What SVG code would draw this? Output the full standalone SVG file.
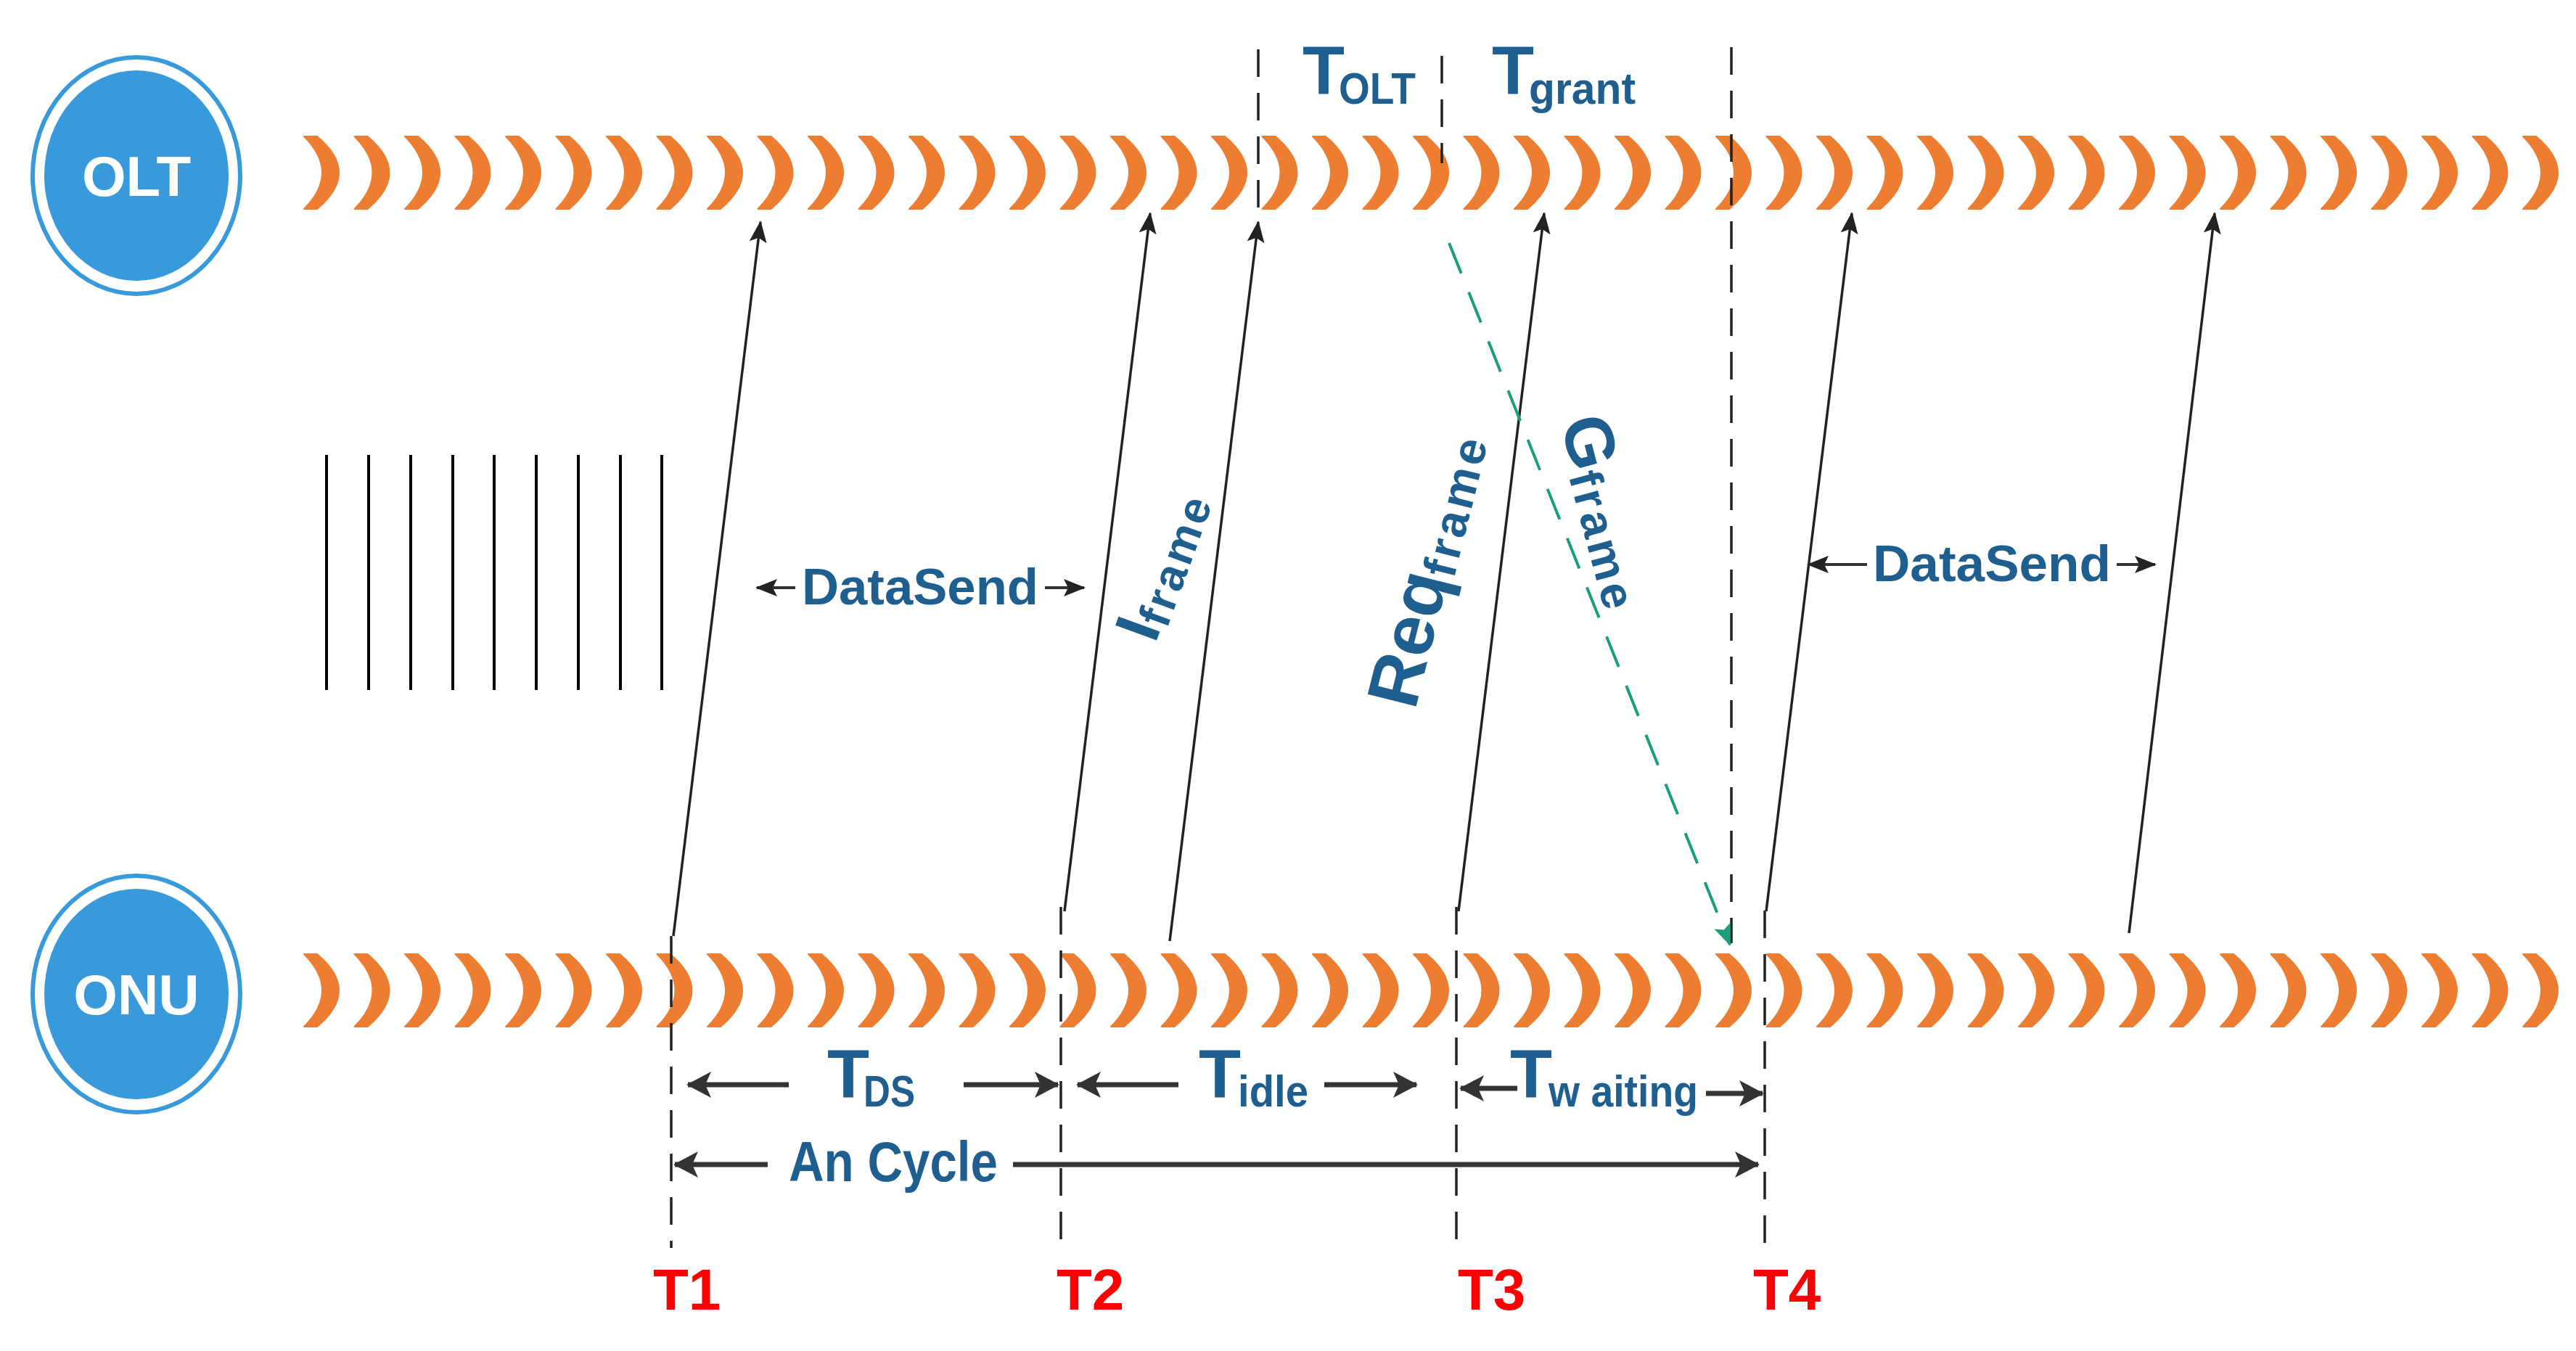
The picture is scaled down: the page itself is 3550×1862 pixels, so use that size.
<svg xmlns="http://www.w3.org/2000/svg" xmlns:xlink="http://www.w3.org/1999/xlink" width="3550" height="1862" viewBox="0 0 3550 1862">
<style>
.lbl{font-family:"Liberation Sans Narrow","Liberation Sans",Arial,sans-serif;font-weight:bold;fill:#1f5f8f}
.red{font-family:"Liberation Sans Narrow","Liberation Sans",Arial,sans-serif;font-weight:bold;fill:#ff0000;font-size:80px}
.dash{stroke:#222;stroke-width:3.5;stroke-dasharray:38 22;fill:none}
.sig{stroke:#222;stroke-width:3.5;fill:none}
.dim{stroke:#333;stroke-width:7;fill:none}
.bar{stroke:#000;stroke-width:4}
</style>
<defs>
<path id="arc" d="M2,-50 L20,-50 Q80,0 20,50 L2,50 Q52,0 2,-50 Z" fill="#ed7d31" stroke="#ed7d31" stroke-width="2" stroke-linejoin="round"/>
<marker id="ah" markerUnits="userSpaceOnUse" markerWidth="30" markerHeight="40" viewBox="0 0 30 40" refX="28" refY="15" orient="auto">
<path d="M0,3 L30,15 L0,27 L6,15 Z" fill="#222"/>
</marker>
<marker id="dh" markerUnits="userSpaceOnUse" markerWidth="34" markerHeight="40" viewBox="0 0 34 40" refX="32" refY="20" orient="auto-start-reverse">
<path d="M0,2 L34,20 L0,38 L8,20 Z" fill="#333"/>
</marker>
<marker id="gh" markerUnits="userSpaceOnUse" markerWidth="30" markerHeight="40" viewBox="0 0 30 40" refX="28" refY="15" orient="auto">
<path d="M0,3 L30,15 L0,27 L6,15 Z" fill="#1a9e7e"/>
</marker>
</defs>

<g id="OLT">
<ellipse cx="188" cy="242" rx="143" ry="163" fill="#fff" stroke="#3899db" stroke-width="6"/>
<ellipse cx="188" cy="242" rx="127" ry="145" fill="#3899db"/>
<text x="188" y="270" text-anchor="middle" style="font-family:'Liberation Sans Narrow','Liberation Sans',Arial,sans-serif;font-weight:bold;font-size:78px;fill:#fff">OLT</text>
</g>
<g id="ONU">
<ellipse cx="188" cy="1370" rx="143" ry="163" fill="#fff" stroke="#3899db" stroke-width="6"/>
<ellipse cx="188" cy="1370" rx="127" ry="145" fill="#3899db"/>
<text x="188" y="1398" text-anchor="middle" style="font-family:'Liberation Sans Narrow','Liberation Sans',Arial,sans-serif;font-weight:bold;font-size:78px;fill:#fff">ONU</text>
</g>

<g id="OLT-line">
<use xlink:href="#arc" href="#arc" x="417" y="238"/><use href="#arc" x="486.5" y="238"/><use href="#arc" x="556" y="238"/><use href="#arc" x="625.5" y="238"/><use href="#arc" x="695" y="238"/><use href="#arc" x="764.5" y="238"/><use href="#arc" x="834" y="238"/><use href="#arc" x="903.5" y="238"/><use href="#arc" x="973" y="238"/><use href="#arc" x="1042.5" y="238"/><use href="#arc" x="1112" y="238"/><use href="#arc" x="1181.5" y="238"/><use href="#arc" x="1251" y="238"/><use href="#arc" x="1320.5" y="238"/><use href="#arc" x="1390" y="238"/><use href="#arc" x="1459.5" y="238"/><use href="#arc" x="1529" y="238"/><use href="#arc" x="1598.5" y="238"/><use href="#arc" x="1668" y="238"/><use href="#arc" x="1737.5" y="238"/><use href="#arc" x="1807" y="238"/><use href="#arc" x="1876.5" y="238"/><use href="#arc" x="1946" y="238"/><use href="#arc" x="2015.5" y="238"/><use href="#arc" x="2085" y="238"/><use href="#arc" x="2154.5" y="238"/><use href="#arc" x="2224" y="238"/><use href="#arc" x="2293.5" y="238"/><use href="#arc" x="2363" y="238"/><use href="#arc" x="2432.5" y="238"/><use href="#arc" x="2502" y="238"/><use href="#arc" x="2571.5" y="238"/><use href="#arc" x="2641" y="238"/><use href="#arc" x="2710.5" y="238"/><use href="#arc" x="2780" y="238"/><use href="#arc" x="2849.5" y="238"/><use href="#arc" x="2919" y="238"/><use href="#arc" x="2988.5" y="238"/><use href="#arc" x="3058" y="238"/><use href="#arc" x="3127.5" y="238"/><use href="#arc" x="3197" y="238"/><use href="#arc" x="3266.5" y="238"/><use href="#arc" x="3336" y="238"/><use href="#arc" x="3405.5" y="238"/><use href="#arc" x="3475" y="238"/>
</g>
<g id="ONU-line">
<use href="#arc" x="417" y="1365"/><use href="#arc" x="486.5" y="1365"/><use href="#arc" x="556" y="1365"/><use href="#arc" x="625.5" y="1365"/><use href="#arc" x="695" y="1365"/><use href="#arc" x="764.5" y="1365"/><use href="#arc" x="834" y="1365"/><use href="#arc" x="903.5" y="1365"/><use href="#arc" x="973" y="1365"/><use href="#arc" x="1042.5" y="1365"/><use href="#arc" x="1112" y="1365"/><use href="#arc" x="1181.5" y="1365"/><use href="#arc" x="1251" y="1365"/><use href="#arc" x="1320.5" y="1365"/><use href="#arc" x="1390" y="1365"/><use href="#arc" x="1459.5" y="1365"/><use href="#arc" x="1529" y="1365"/><use href="#arc" x="1598.5" y="1365"/><use href="#arc" x="1668" y="1365"/><use href="#arc" x="1737.5" y="1365"/><use href="#arc" x="1807" y="1365"/><use href="#arc" x="1876.5" y="1365"/><use href="#arc" x="1946" y="1365"/><use href="#arc" x="2015.5" y="1365"/><use href="#arc" x="2085" y="1365"/><use href="#arc" x="2154.5" y="1365"/><use href="#arc" x="2224" y="1365"/><use href="#arc" x="2293.5" y="1365"/><use href="#arc" x="2363" y="1365"/><use href="#arc" x="2432.5" y="1365"/><use href="#arc" x="2502" y="1365"/><use href="#arc" x="2571.5" y="1365"/><use href="#arc" x="2641" y="1365"/><use href="#arc" x="2710.5" y="1365"/><use href="#arc" x="2780" y="1365"/><use href="#arc" x="2849.5" y="1365"/><use href="#arc" x="2919" y="1365"/><use href="#arc" x="2988.5" y="1365"/><use href="#arc" x="3058" y="1365"/><use href="#arc" x="3127.5" y="1365"/><use href="#arc" x="3197" y="1365"/><use href="#arc" x="3266.5" y="1365"/><use href="#arc" x="3336" y="1365"/><use href="#arc" x="3405.5" y="1365"/><use href="#arc" x="3475" y="1365"/>
</g>

<g id="bars">
<line class="bar" x1="450" y1="627" x2="450" y2="951"/><line class="bar" x1="508" y1="627" x2="508" y2="951"/><line class="bar" x1="566" y1="627" x2="566" y2="951"/><line class="bar" x1="624" y1="627" x2="624" y2="951"/><line class="bar" x1="681" y1="627" x2="681" y2="951"/><line class="bar" x1="739" y1="627" x2="739" y2="951"/><line class="bar" x1="797" y1="627" x2="797" y2="951"/><line class="bar" x1="855" y1="627" x2="855" y2="951"/><line class="bar" x1="912" y1="627" x2="912" y2="951"/>
</g>

<g id="guides">
<line class="dash" x1="925" y1="1290" x2="925" y2="1720"/>
<line class="dash" x1="1462" y1="1250" x2="1462" y2="1720"/>
<line class="dash" x1="2007" y1="1250" x2="2007" y2="1720"/>
<line class="dash" x1="2432" y1="1255" x2="2432" y2="1720"/>
<line class="dash" x1="1734" y1="68" x2="1734" y2="290"/>
<line class="dash" x1="1987" y1="77" x2="1987" y2="225"/>
<line class="dash" x1="2386" y1="65" x2="2386" y2="1300"/>
</g>

<g id="connectors">
<line class="sig" x1="928" y1="1290" x2="1048" y2="306" marker-end="url(#ah)"/>
<line class="sig" x1="1467" y1="1256" x2="1585" y2="294" marker-end="url(#ah)"/>
<line class="sig" x1="1612" y1="1297" x2="1734" y2="306" marker-end="url(#ah)"/>
<line class="sig" x1="2010" y1="1256" x2="2128" y2="294" marker-end="url(#ah)"/>
<line class="sig" x1="2434" y1="1256" x2="2552" y2="294" marker-end="url(#ah)"/>
<line class="sig" x1="2934" y1="1286" x2="3052" y2="294" marker-end="url(#ah)"/>
<line x1="1997" y1="335" x2="2384" y2="1302" stroke="#1a9e7e" stroke-width="4" stroke-dasharray="45 28" marker-end="url(#gh)"/>
<line class="dim" x1="1087" y1="1495" x2="948" y2="1495" marker-end="url(#dh)"/>
<line class="dim" x1="1328" y1="1495" x2="1458" y2="1495" marker-end="url(#dh)"/>
<line class="dim" x1="1624" y1="1495" x2="1485" y2="1495" marker-end="url(#dh)"/>
<line class="dim" x1="1825" y1="1495" x2="1952" y2="1495" marker-end="url(#dh)"/>
<line class="dim" x1="2091" y1="1500" x2="2013" y2="1500" marker-end="url(#dh)"/>
<line class="dim" x1="2351" y1="1507" x2="2429" y2="1507" marker-end="url(#dh)"/>
<line class="dim" x1="1058" y1="1605" x2="930" y2="1605" marker-end="url(#dh)"/>
<line class="dim" x1="1396" y1="1605" x2="2423" y2="1605" marker-end="url(#dh)"/>
<line x1="1096" y1="810" x2="1043" y2="810" stroke="#333" stroke-width="4" marker-end="url(#ah)"/>
<line x1="1440" y1="810" x2="1494" y2="810" stroke="#333" stroke-width="4" marker-end="url(#ah)"/>
<line x1="2573" y1="778" x2="2492" y2="778" stroke="#333" stroke-width="4" marker-end="url(#ah)"/>
<line x1="2917" y1="778" x2="2970" y2="778" stroke="#333" stroke-width="4" marker-end="url(#ah)"/>
</g>

<g id="labels">
<text class="lbl" x="1105" y="833" font-size="70" textLength="326" lengthAdjust="spacingAndGlyphs">DataSend</text>
<text class="lbl" x="2581" y="801" font-size="70" textLength="328" lengthAdjust="spacingAndGlyphs">DataSend</text>
<text class="lbl" x="1795" y="130" font-size="95">T</text>
<text class="lbl" x="1845" y="143" font-size="62" textLength="106" lengthAdjust="spacingAndGlyphs">OLT</text>
<text class="lbl" x="2056" y="130" font-size="95">T</text>
<text class="lbl" x="2107" y="143" font-size="62" textLength="147" lengthAdjust="spacingAndGlyphs">grant</text>
<text class="lbl" x="1140" y="1513" font-size="95">T</text>
<text class="lbl" x="1190" y="1525" font-size="62" textLength="71" lengthAdjust="spacingAndGlyphs">DS</text>
<text class="lbl" x="1652" y="1513" font-size="95">T</text>
<text class="lbl" x="1706" y="1525" font-size="62" textLength="97" lengthAdjust="spacingAndGlyphs">idle</text>
<text class="lbl" x="2081" y="1513" font-size="95">T</text>
<text class="lbl" x="2134" y="1525" font-size="62" textLength="206" lengthAdjust="spacingAndGlyphs">w aiting</text>
<text class="lbl" x="1087" y="1628" font-size="77" textLength="288" lengthAdjust="spacingAndGlyphs">An Cycle</text>
<text class="lbl" transform="translate(1592,888) rotate(-70)" font-size="88">I<tspan font-size="62" dy="8" letter-spacing="4">frame</tspan></text>
<text class="lbl" transform="translate(1950,980) rotate(-76)" font-size="100">Req<tspan font-size="64" dy="8" letter-spacing="5">frame</tspan></text>
<text class="lbl" transform="translate(2150,582) rotate(75)" font-size="95">G<tspan font-size="64" dy="8" letter-spacing="5">frame</tspan></text>
<text class="red" x="900" y="1805">T1</text>
<text class="red" x="1456" y="1805">T2</text>
<text class="red" x="2009" y="1805">T3</text>
<text class="red" x="2416" y="1805">T4</text>
</g>
</svg>
